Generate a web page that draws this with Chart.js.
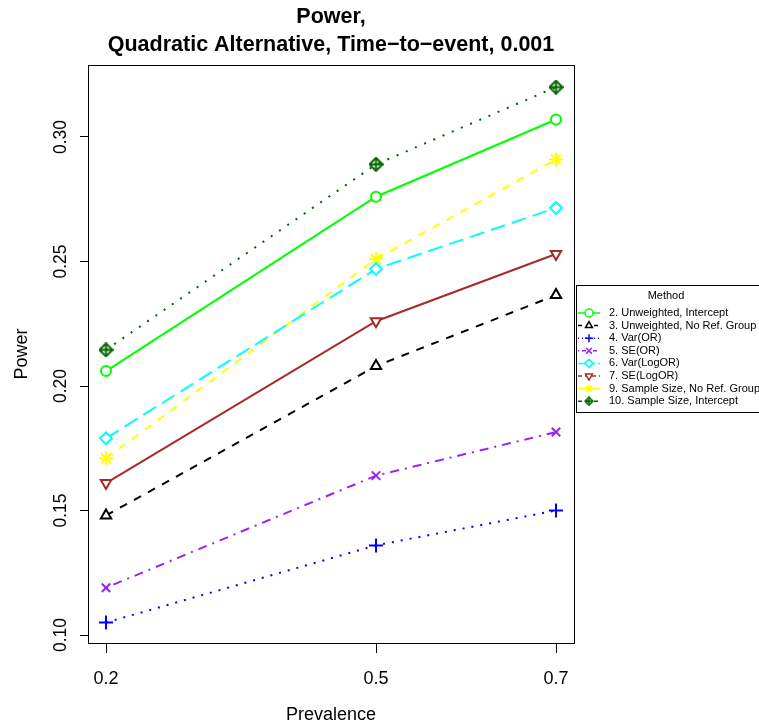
<!DOCTYPE html>
<html>
<head>
<meta charset="utf-8">
<script src="https://cdn.jsdelivr.net/npm/chart.js@4"></script>
<style>
  body { margin: 0; background: #fff; }
  #powerChart { display: block; }
</style>
</head>
<body>
<canvas id="powerChart" width="759" height="728"></canvas>
<script>
// values
const prevalence = [0.2, 0.5, 0.7];
const xTicks = [0.2, 0.5, 0.7];
const yTicks = [0.10, 0.15, 0.20, 0.25, 0.30];

const methodLabels = [
    '2. Unweighted, Intercept',
    '3. Unweighted, No Ref. Group',
    '4. Var(OR)',
    '5. SE(OR)',
    '6. Var(LogOR)',
    '7. SE(LogOR)',
    '9. Sample Size, No Ref. Group',
    '10. Sample Size, Intercept'
];

const unweightedIntercept = [0.206, 0.276, 0.307];
const unweightedNoRef = [0.148, 0.208, 0.2365];
const varOR = [0.105, 0.136, 0.150];
const seOR = [0.119, 0.164, 0.1815];
const varLogOR = [0.179, 0.247, 0.2715];
const seLogOR = [0.161, 0.226, 0.253];
const sampleSizeNoRef = [0.171, 0.251, 0.291];
const sampleSizeIntercept = [0.2145, 0.289, 0.320];

const FONT = '"Liberation Sans", Arial, Helvetica, sans-serif';

// diamond with a plus inside (R pch 9)
function makeDiamondPlus(size, color, lw) {
    const c = document.createElement('canvas');
    c.width = size;
    c.height = size;
    const g = c.getContext('2d');
    const m = size / 2;
    g.strokeStyle = color;
    g.lineWidth = lw;
    g.beginPath();
    g.moveTo(m, 1);
    g.lineTo(size - 1, m);
    g.lineTo(m, size - 1);
    g.lineTo(1, m);
    g.closePath();
    g.stroke();
    g.beginPath();
    g.moveTo(m, 1);
    g.lineTo(m, size - 1);
    g.moveTo(1, m);
    g.lineTo(size - 1, m);
    g.stroke();
    return c;
}

function series(values, label, color, dash, style, radius, rotation) {
    return {
        label: label,
        data: prevalence.map((p, i) => ({ x: p, y: values[i] })),
        borderColor: color,
        borderWidth: 2,
        borderDash: dash,
        pointStyle: style,
        pointRotation: rotation || 0,
        pointRadius: radius,
        pointBorderColor: color,
        pointBackgroundColor: '#ffffff',
        pointBorderWidth: 2,
        fill: false,
        tension: 0
    };
}

const datasets = [
    series(unweightedIntercept, methodLabels[0], '#00ff00', [], 'circle', 5),
    series(unweightedNoRef, methodLabels[1], '#000000', [8, 8], 'triangle', 6),
    series(varOR, methodLabels[2], '#0000ff', [2, 7], 'cross', 7),
    series(seOR, methodLabels[3], '#a020f0', [2, 6, 9, 6], 'crossRot', 6),
    series(varLogOR, methodLabels[4], '#00ffff', [15, 7], 'rectRot', 6),
    series(seLogOR, methodLabels[5], '#a52a2a', [], 'triangle', 6, 180),
    series(sampleSizeNoRef, methodLabels[6], '#ffff00', [8, 8], 'star', 7),
    series(sampleSizeIntercept, methodLabels[7], '#006400', [2, 8], makeDiamondPlus(15, '#006400', 2), 7)
];
const legendMarkers = [null, null, null, null, null, null, null, makeDiamondPlus(10, '#006400', 1.5)];
const legendDash = [[], [4, 4], [1, 3], [1, 3, 4, 3], [7, 3], [4, 3], [], [4, 4]];

const framePlugin = {
    id: 'frame',
    afterDraw(chart) {
        const ctx = chart.ctx;
        const a = chart.chartArea;
        const yScale = chart.scales.y;
        const cx = (a.left + a.right) / 2;

        ctx.save();
        // plot box
        ctx.strokeStyle = '#000';
        ctx.lineWidth = 1;
        ctx.setLineDash([]);
        ctx.strokeRect(Math.round(a.left) + 0.5, Math.round(a.top) + 0.5,
            Math.round(a.right - a.left), Math.round(a.bottom - a.top));

        // title
        ctx.fillStyle = '#000';
        ctx.textAlign = 'center';
        ctx.textBaseline = 'middle';
        ctx.font = 'bold 21.5px ' + FONT;
        ctx.fillText('Power,', cx, 17);
        ctx.fillText('Quadratic Alternative, Time\u2212to\u2212event, 0.001', cx, 45);

        // x axis title
        ctx.font = '18px ' + FONT;
        ctx.fillText('Prevalence', cx, 715);

        // y tick labels, rotated like R
        ctx.font = '17.5px ' + FONT;
        yTicks.forEach(v => {
            const py = yScale.getPixelForValue(v);
            ctx.save();
            ctx.translate(61, py);
            ctx.rotate(-Math.PI / 2);
            ctx.fillText(v.toFixed(2), 0, 0);
            ctx.restore();
        });

        // y axis title
        ctx.font = '18px ' + FONT;
        ctx.save();
        ctx.translate(22, (a.top + a.bottom) / 2);
        ctx.rotate(-Math.PI / 2);
        ctx.fillText('Power', 0, 0);
        ctx.restore();

        // legend
        const lx = 576, ly = 285, lw = 190, lh = 127;
        ctx.fillStyle = '#fff';
        ctx.fillRect(lx, ly, lw, lh);
        ctx.strokeStyle = '#000';
        ctx.strokeRect(lx + 0.5, ly + 0.5, lw, lh);
        ctx.fillStyle = '#000';
        ctx.font = '11px ' + FONT;
        ctx.textAlign = 'center';
        ctx.fillText('Method', 666, 296);

        const drawPoint = Chart.helpers && Chart.helpers.drawPoint;
        chart.data.datasets.forEach((ds, i) => {
            const ry = 313 + i * 12.6;
            ctx.strokeStyle = ds.borderColor;
            ctx.lineWidth = 1.5;
            ctx.setLineDash(legendDash[i]);
            ctx.beginPath();
            ctx.moveTo(578, ry);
            ctx.lineTo(600, ry);
            ctx.stroke();
            ctx.setLineDash([]);
            ctx.fillStyle = '#fff';
            if (drawPoint) {
                drawPoint(ctx, {
                    pointStyle: legendMarkers[i] || ds.pointStyle,
                    rotation: ds.pointRotation,
                    radius: 4,
                    borderWidth: 1.5
                }, 589, ry);
            }
            ctx.fillStyle = '#000';
            ctx.textAlign = 'left';
            ctx.fillText(ds.label, 609, ry);
        });
        ctx.restore();
    }
};

const ctx = document.getElementById('powerChart').getContext('2d');
new Chart(ctx, {
    type: 'line',
    data: { datasets: datasets },
    options: {
        responsive: false,
        animation: false,
        layout: { padding: { left: 0, top: 65, right: 185, bottom: 0 } },
        plugins: {
            legend: { display: false },
            title: { display: false },
            tooltip: { enabled: false }
        },
        scales: {
            x: {
                type: 'linear',
                min: 0.18,
                max: 0.72,
                afterBuildTicks: scale => { scale.ticks = xTicks.map(v => ({ value: v })); },
                afterFit: scale => { scale.height = 85; },
                border: { display: false },
                grid: { drawOnChartArea: false, drawTicks: true, tickLength: 10, color: '#000' },
                ticks: {
                    autoSkip: false,
                    maxRotation: 0,
                    padding: 15,
                    color: '#000',
                    font: { family: FONT, size: 18 },
                    callback: v => String(v)
                }
            },
            y: {
                type: 'linear',
                min: 0.0968,
                max: 0.3289,
                afterBuildTicks: scale => { scale.ticks = yTicks.map(v => ({ value: v })); },
                afterFit: scale => { scale.width = 88; },
                border: { display: false },
                grid: { drawOnChartArea: false, drawTicks: true, tickLength: 8, color: '#000' },
                ticks: { display: false }
            }
        }
    },
    plugins: [framePlugin]
});
</script>
</body>
</html>
